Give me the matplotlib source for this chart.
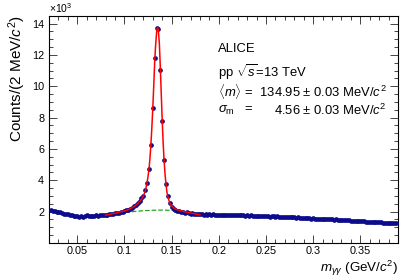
import numpy as np
from matplotlib import pyplot as plt
from matplotlib.ticker import MultipleLocator

plt.rcParams['font.family'] = ['Liberation Sans', 'DejaVu Sans']
plt.rcParams['mathtext.fontset'] = 'custom'
plt.rcParams['mathtext.rm'] = 'Liberation Sans'
plt.rcParams['mathtext.it'] = 'Liberation Sans:italic'
plt.rcParams['mathtext.bf'] = 'Liberation Sans:bold'

# invariant mass bin centres (GeV/c^2), 2 MeV bins
mass_first, mass_step = 0.022, 0.002

# counts per bin (x10^3)
counts = [
    2.08, 2.07, 2.04, 2.01, 1.98, 1.95, 1.92, 1.88, 1.85, 1.82,
    1.80, 1.77, 1.75, 1.72, 1.70, 1.69, 1.70, 1.68, 1.72, 1.76,
    1.73, 1.72, 1.74, 1.73, 1.76, 1.75, 1.78, 1.77, 1.79, 1.78,
    1.81, 1.83, 1.84, 1.86, 1.89, 1.91, 1.93, 1.96, 1.99, 2.04,
    2.08, 2.13, 2.19, 2.25, 2.33, 2.42, 2.53, 2.68, 2.86, 3.02,
    3.35, 3.83, 4.72, 6.26, 8.60, 11.80, 13.70, 13.68, 11.05, 7.78,
    5.30, 3.76, 2.99, 2.58, 2.32, 2.18, 2.10, 2.07, 2.02, 1.98,
    1.97, 1.93, 1.95, 1.90, 1.88, 1.89, 1.86, 1.84, 1.85, 1.82,
    1.83, 1.80, 1.84, 1.81, 1.82, 1.79, 1.83, 1.80, 1.81, 1.80,
    1.78, 1.81, 1.79, 1.80, 1.77, 1.79, 1.81, 1.78, 1.80, 1.77,
    1.79, 1.76, 1.78, 1.75, 1.77, 1.74, 1.76, 1.75, 1.73, 1.75,
    1.72, 1.74, 1.71, 1.73, 1.70, 1.72, 1.69, 1.71, 1.70, 1.68,
    1.70, 1.67, 1.69, 1.66, 1.68, 1.65, 1.64, 1.66, 1.63, 1.64,
    1.62, 1.63, 1.60, 1.61, 1.59, 1.60, 1.57, 1.58, 1.56, 1.57,
    1.55, 1.56, 1.53, 1.55, 1.52, 1.53, 1.51, 1.52, 1.50, 1.51,
    1.49, 1.50, 1.47, 1.48, 1.46, 1.47, 1.45, 1.44, 1.45, 1.43,
    1.42, 1.43, 1.40, 1.41, 1.39, 1.38, 1.39, 1.37, 1.36, 1.35,
    1.34, 1.35, 1.33, 1.32, 1.31, 1.32, 1.30, 1.29, 1.30, 1.28,
    1.28, 1.27, 1.26, 1.27,
]

# signal + background fit (red), x10^3
fit_mass = [0.080, 0.090, 0.100, 0.105, 0.110, 0.114, 0.117, 0.120, 0.122,
            0.124, 0.126, 0.127, 0.128, 0.129, 0.130, 0.131, 0.132, 0.133,
            0.134, 0.1345, 0.135, 0.1355, 0.136, 0.137, 0.138, 0.139, 0.140,
            0.141, 0.142, 0.143, 0.144, 0.145, 0.146, 0.148, 0.150, 0.153,
            0.156, 0.160, 0.165, 0.170, 0.175, 0.180]
fit_total = [1.78, 1.90, 2.05, 2.15, 2.32, 2.50, 2.70, 3.00, 3.30,
             3.85, 4.70, 5.40, 6.25, 7.35, 8.55, 10.0, 11.5, 12.6,
             13.4, 13.65, 13.75, 13.70, 13.5, 12.7, 11.2, 9.5, 7.85,
             6.4, 5.25, 4.4, 3.75, 3.25, 2.95, 2.55, 2.35, 2.20,
             2.12, 2.05, 1.98, 1.92, 1.86, 1.80]

# background only (green dashed), x10^3
bkg_mass = [0.080, 0.090, 0.100, 0.110, 0.120, 0.130, 0.140, 0.150, 0.160,
            0.170, 0.180]
bkg_fit = [1.75, 1.85, 1.94, 2.01, 2.06, 2.09, 2.10, 2.08, 2.03, 1.95, 1.85]

title_lines = ['ALICE', r'pp $\sqrt{s}$=13 TeV']
mean_line = r'$\langle m\rangle$ =  134.95 $\pm$ 0.03 MeV/$c^2$'
sigma_label = r'$\sigma_{\rm m}$   ='
sigma_value = r'4.56 $\pm$ 0.03 MeV/$c^2$'


def style_axes(ax):
    ax.set_xlim(0.02, 0.39)
    ax.set_ylim(0, 14.5)
    ax.xaxis.set_minor_locator(MultipleLocator(0.01))
    ax.yaxis.set_minor_locator(MultipleLocator(0.5))
    ax.set_xticks([0.05, 0.1, 0.15, 0.2, 0.25, 0.3, 0.35])
    ax.set_xticklabels(['0.05', '0.1', '0.15', '0.2', '0.25', '0.3', '0.35'])
    ax.set_yticks([2, 4, 6, 8, 10, 12, 14])
    ax.tick_params(which='both', direction='in', top=True, right=True,
                   labelsize=7.8, width=0.7, color='#444444')
    ax.tick_params(which='major', length=6, pad=3.5)
    ax.tick_params(which='minor', length=3)
    ax.tick_params(axis='x', which='major', pad=2.5)
    for sp in ax.spines.values():
        sp.set_linewidth(0.8)


def main():
    mass = mass_first + mass_step * np.arange(len(counts))

    fig = plt.figure(figsize=(4.07, 2.77), dpi=100)
    ax = fig.add_axes([0.1204, 0.1227, 0.8576, 0.8206])

    ax.plot(mass, counts, 'o', color='#0b0b8c', markersize=3.4,
            markeredgewidth=0, zorder=3)
    ax.plot(bkg_mass, bkg_fit, '--', color='#2ca02c', lw=0.9, zorder=2)
    ax.plot(fit_mass, fit_total, '-', color='#ff0000', lw=1.1, zorder=4)

    style_axes(ax)

    ax.set_ylabel(r'Counts/(2 MeV/$c^2$)', fontsize=11, loc='top', labelpad=3)
    ax.text(1.0, -0.069, r'$m_{\gamma\gamma}$ (GeV/$c^2$)', fontsize=9.6,
            transform=ax.transAxes, ha='right', va='top')
    ax.text(0.0, 1.005, r'$\times10^3$', transform=ax.transAxes,
            fontsize=7.5, ha='left', va='bottom')

    x0, fs = 0.483, 9.4
    for line, y in zip(title_lines, [0.853, 0.754]):
        ax.text(x0, y, line, transform=ax.transAxes, fontsize=fs,
                ha='left', va='center')
    mean_txt = ax.text(x0, 0.668, mean_line, transform=ax.transAxes,
                       fontsize=fs, ha='left', va='center')
    ax.text(x0, 0.582, sigma_label, transform=ax.transAxes, fontsize=fs,
            ha='left', va='center')

    # right-align the sigma value with the end of the mean line
    fig.canvas.draw()
    bb = mean_txt.get_window_extent().transformed(ax.transAxes.inverted())
    ax.text(bb.x1, 0.582, sigma_value, transform=ax.transAxes, fontsize=fs,
            ha='right', va='center')

    fig.savefig('out.png', dpi=100)


if __name__ == '__main__':
    main()
